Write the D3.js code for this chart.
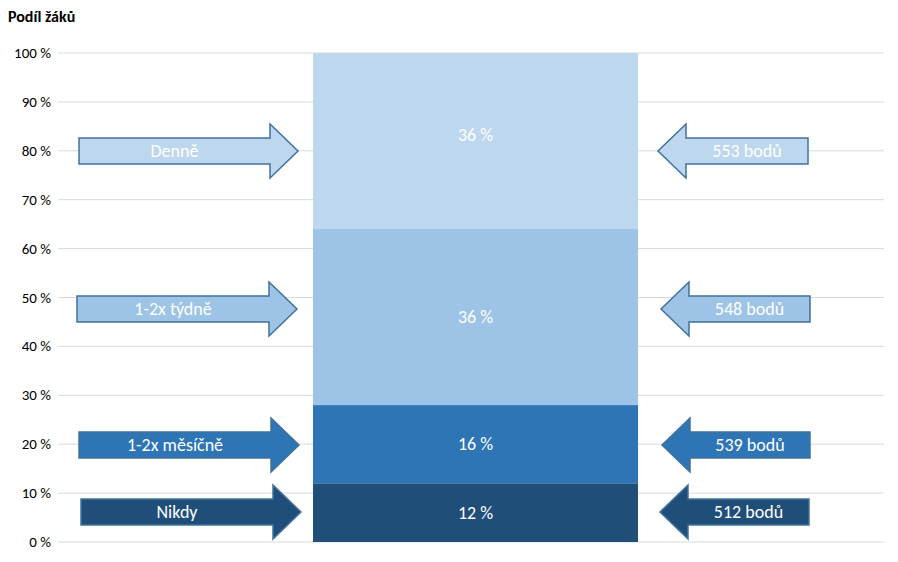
<!DOCTYPE html><html><head><meta charset="utf-8"><script src="https://cdn.jsdelivr.net/npm/d3@7"></script>
<style>body{margin:0;background:#fff;font-family:Calibri,Carlito,Lato,sans-serif}</style></head><body><svg id="c" width="898" height="562"></svg>
<script>
const categories=["Nikdy","1-2x měsíčně","1-2x týdně","Denně"];
const shares=[12,16,36,36];
const points=["512 bodů","539 bodů","548 bodů","553 bodů"];
const yTicks=[0,10,20,30,40,50,60,70,80,90,100];
const colors=["#1f4e79","#2e75b6","#9dc3e6","#bdd7ee"];
const svg=d3.select("#c");
const y=d3.scaleLinear().domain([0,100]).range([542,53]);
const x=d3.scaleBand().domain(["all"]).range([313,638]).padding(0);
svg.append("text").attr("x",8).attr("y",22).attr("font-weight","bold").attr("font-size",16).text("Podíl žáků");
const g=svg.append("g");
yTicks.forEach(t=>{
 g.append("line").attr("x1",58).attr("x2",884).attr("y1",y(t)).attr("y2",y(t)).attr("stroke","#d9d9d9");
 g.append("text").attr("x",51).attr("y",y(t)+5).attr("text-anchor","end").attr("font-size",15).attr("fill","#000").text(t+" %");
});
let cum=0;
const segs=shares.map((v,i)=>{const s={v,i,y0:cum,y1:cum+v};cum+=v;return s;});
segs.forEach(s=>{
 g.append("rect").attr("x",x("all")).attr("width",x.bandwidth()).attr("y",y(s.y1)).attr("height",y(s.y0)-y(s.y1)).attr("fill",colors[s.i]);
 g.append("text").attr("x",x("all")+x.bandwidth()/2).attr("y",(y(s.y0)+y(s.y1))/2+(s.i==3?-6:0)+6).attr("text-anchor","middle").attr("fill","#fff").attr("font-size",18).text(s.v+" %");
});
const leftX=[[81,301],[79,299],[77,297],[79,298]];
const rightX=[[660,809],[662,810],[661,810],[658,808]];
const centres=[512,445,309,151];
function arrow(x0,x1,cy,dir){
 const bh=13,hh=27,hl=28;
 let p;
 if(dir>0)p=[[x0,cy-bh],[x1-hl,cy-bh],[x1-hl,cy-hh],[x1,cy],[x1-hl,cy+hh],[x1-hl,cy+bh],[x0,cy+bh]];
 else p=[[x1,cy-bh],[x0+hl,cy-bh],[x0+hl,cy-hh],[x0,cy],[x0+hl,cy+hh],[x0+hl,cy+bh],[x1,cy+bh]];
 return "M"+p.map(d=>d.join(",")).join("L")+"Z";
}
categories.forEach((c,i)=>{
 const cy=centres[i];
 g.append("path").attr("d",arrow(leftX[i][0],leftX[i][1],cy,1)).attr("fill",colors[i]).attr("stroke","#41719c").attr("stroke-width",1.5);
 g.append("text").attr("x",(leftX[i][0]+leftX[i][1]-28)/2).attr("y",cy+6).attr("text-anchor","middle").attr("fill","#fff").attr("font-size",18).text(c);
 g.append("path").attr("d",arrow(rightX[i][0],rightX[i][1],cy,-1)).attr("fill",colors[i]).attr("stroke","#41719c").attr("stroke-width",1.5);
 g.append("text").attr("x",(rightX[i][0]+28+rightX[i][1])/2).attr("y",cy+6).attr("text-anchor","middle").attr("fill","#fff").attr("font-size",18).text(points[i]);
});
</script></body></html>
